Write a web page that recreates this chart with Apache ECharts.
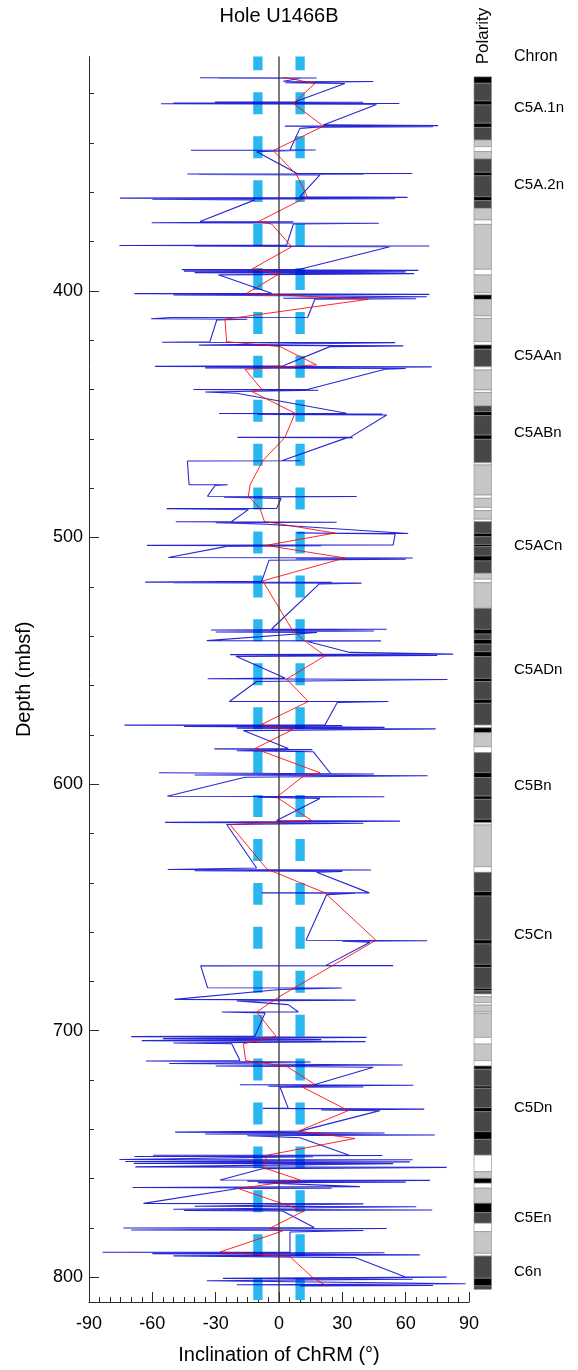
<!DOCTYPE html>
<html>
<head>
<meta charset="utf-8">
<script src="https://cdn.jsdelivr.net/npm/echarts@6/dist/echarts.min.js"></script>
<style>html,body{margin:0;padding:0;background:#fff}#c{width:578px;height:1370px}</style>
</head>
<body>
<div id="c"></div>
<script>
// ---------------- data ----------------
// Blue: individual inclination readings, [inclination (deg), depth (mbsf)], in sequence
const blueReadings = [
 [-37.4,313.6],[17.8,313.7],[-28.7,313.8],[10,313.9],[2,315.0],[44.7,315.1],[3,315.6],[31.2,315.9],
 [7.6,323.3],[-30.3,323.4],[39.9,323.5],[-50,323.8],[57,324.0],[-55.9,324.1],[46.2,324.4],
 [21,332.7],[75.4,333.0],[2.8,333.2],[73,333.4],[17.8,333.6],[9.9,334.1],
 [5.2,342.9],[17.4,342.9],[-41.7,343.0],[8,343.1],[-10.6,343.6],
 [8.4,352.3],[63.1,352.4],[-43.4,352.6],[40,352.7],[-38,352.8],[19.4,353.0],
 [9.9,361.8],[60.9,362.1],[-75.3,362.4],[55,362.6],[-60,362.8],[-11.4,363.1],
 [-37.4,371.9],[6.8,372.0],[-60.3,372.4],[47.3,372.6],[6.8,372.9],
 [3.6,381.4],[-75.6,381.6],[71.2,381.8],[-40,381.9],[52.5,382.1],
 [9.9,391.2],[-46,391.4],[66,391.7],[-45,392.0],[60,392.3],[-40,392.6],[64,393.0],[-28.7,393.5],
 [-3.5,401.0],[-68.5,401.1],[71.2,401.4],[-50,401.6],[70,402.4],[2,403.0],[65,403.2],[17,403.4],
 [13.6,410.7],[-51,410.8],[-60.6,411.3],[-15,411.5],[-29.5,411.8],
 [-32.7,420.6],[-55.5,420.8],[55,421.0],[-38,422.0],[58.9,422.3],[24.1,422.6],
 [2,430.4],[-58.7,430.6],[72.3,430.8],[-35,431.2],[60,431.5],[50.2,431.8],
 [13.9,439.9],[-40.6,440.0],[18.6,440.3],[-35,441.0],[-20,441.5],
 [32,449.6],[-28.4,449.7],[49,449.9],[-10,450.1],[51,450.3],
 [33.6,459.4],[-19.7,459.4],[34.9,459.5],[32,459.6],
 [1.3,468.9],[10.3,468.9],[-43.4,469.0],[-42.6,478.6],
 [-24.3,478.6],[-30.3,478.9],[-33.9,483.3],
 [36.8,483.4],[-26,483.7],[1,484.2],
 [-1.1,488.2],[-53.2,488.3],[-14.5,488.7],
 [-22.4,493.5],[-48.9,493.6],[27.3,493.8],[-30,494.0],[-5.8,494.6],
 [61.2,498.4],[8.4,498.2],[55,498.6],
 [54.1,503.0],[-62.6,503.2],[20,503.3],[-24.8,503.6],
 [-52.4,508.1],[63.3,508.3],[8,508.6],[60,508.8],[-4.7,509.2],
 [-8.2,517.8],[-63.4,518.1],[25,518.2],[-50,518.3],[39.1,518.5],[19.1,518.8],
 [-3.5,537.1],[51,537.2],[-32.2,537.5],[45,537.9],[-30,538.3],[18,538.5],
 [-34.2,541.8],[48.3,541.9],[13.1,542.1],
 [33.6,546.6],[82.5,547.3],[-23.2,547.5],[75,547.8],[-20.4,548.2],
 [2.8,557.0],[-33.8,557.3],[79.8,557.6],[-10.6,558.4],
 [-23.5,566.5],[51.8,566.5],[27.6,566.9],
 [21.8,575.9],[-73.2,576.1],[30,576.3],[-45,576.6],[50,577.0],[-20,577.3],[74.2,577.6],[-16.9,578.3],
 [4.4,585.6],[-30.6,585.7],[15.8,586.0],[-20,586.5],[16.3,586.9],
 [24.5,595.8],[-56.8,595.4],[45,595.9],[-40,596.3],[70.4,596.6],[-16.1,597.2],
 [-52.9,604.9],[49.9,605.1],[-10,605.3],[19.4,605.8],
 [-1.1,614.8],[57.3,615.0],[-54,615.5],[40,615.9],[-24.8,616.4],
 [-10.6,634.0],[-52.7,634.6],[43.6,634.8],[-40,635.1],[30,635.4],[17.8,635.7],
 [42.8,644.1],[-8.2,644.1],[36,644.2],[22.6,644.8],
 [12.8,663.3],[70.2,663.5],[30,663.7],[43.1,664.1],
 [22,673.6],[54.1,673.6],[-37.1,673.7],[-33.8,682.6],
 [29.7,682.7],[0.5,683.3],
 [-49.5,687.3],[36.3,687.6],[-20,687.9],[4.4,689.4],
 [9.2,692.4],[-27.1,692.4],[-6.6,692.8],
 [-11.4,702.2],[-70,702.4],[41.5,702.7],[-55,703.2],[20,703.6],[-65,704.0],[41,704.4],[-50,705.0],[-22.4,705.3],
 [-18.5,712.1],[-63,712.3],[15,712.7],[-52,713.3],[58.5,713.9],[-30,714.3],[44.7,714.8],
 [17,721.8],[-18.5,721.9],[63.6,722.1],[-5,722.5],[40,722.8],[0.5,722.9],
 [4.4,731.5],[-7.7,731.5],[68.8,731.8],[20,732.1],[47.8,732.4],
 [9.9,740.7],[-49.2,741.1],[50,741.5],[-35,741.9],[73.8,742.3],[-15,742.6],[9.9,743.4],
 [33.3,750.5],[-59.6,750.5],[49,750.6],[-68.5,751.0],[16.1,751.1],[-75.6,752.2],[63.3,752.3],[-72.8,753.0],[62,753.2],[-68.8,753.8],[54.1,753.9],[-68.1,755.2],[79.4,755.4],[-7.4,755.9],
 [-27.9,760.5],[71.5,760.7],[-15,761.0],[60,761.4],[-10,761.6],
 [38.3,763.2],[-69.3,763.6],[25,763.9],[-19.3,764.0],
 [-64.2,770.0],[40,770.2],[-40,771.2],[65,771.4],[-50,772.4],[72.6,772.7],[-45,772.9],[1.7,773.1],
 [16.7,779.8],[-73.7,780.0],[51,780.2],[-70,780.8],[40,781.0],[5.2,781.6],
 [5.2,789.7],[-83.6,789.8],[50,790.0],[-60,790.4],[66.7,790.9],[-50,791.3],[36,792.0],
 [59.6,799.8],[79.4,799.9],[-26.6,800.4],[63.3,800.8],[-34.2,801.4],[88.4,802.6],[-20,803.0],[73,803.3],[10,803.5]
];
// Red: averaged inclination per interval
const redInc = [2.1,17.0,6.8,21.0,-2.7,8.4,13.4,-9.8,-3.5,6.0,-12.9,0.5,-15.3,42.3,-25.6,-24.8,0.5,17.8,-16.1,-8.2,-12.9,7.6,
 2.8,-7.7,-13.7,-14.5,-9.0,-6.9,26.5,-6.2,31.2,-7.7,6.0,11.5,21.8,3.6,13.9,-8.5,6.5,-11.4,19.4,11.5,-1.1,15.5,-23.2,
 -5.8,21.8,45.9,0.5,-10.6,-1.4,-16.9,-15.8,3.6,17.0,11.2,32.8,9.2,36.0,-5.8,-7.4,9.9,-19.3,11.8,-4.3,1.7,-27.9,5.2,15.5,22.6];
const redDepth = [313.4,315.9,324.0,333.2,343.1,353.0,361.8,371.9,372.9,382.1,391.2,392.9,401.0,403.4,411.5,420.6,422.6,430.0,431.8,439.9,440.8,449.6,
 459.4,468.9,478.6,483.3,488.3,493.5,498.2,503.2,508.3,517.6,537.1,541.5,548.0,557.4,566.5,575.9,577.9,585.6,595.4,596.8,605.3,614.8,616.4,
 634.4,644.1,663.3,686.0,692.4,702.2,705.3,712.1,714.4,721.8,722.9,732.4,740.7,743.7,750.5,755.5,760.5,764.0,773.1,780.1,781.2,789.7,791.6,799.8,803.5];
// Reference inclinations (dashed)
const refInc = [-10, 10];
// Polarity column: interval boundaries (mbsf) and type (K black, D dark, L light, W white)
const polBounds = [313.2,315.8,323.0,324.6,332.0,333.7,338.8,341.5,343.5,346.5,351.9,353.3,361.8,363.4,366.5,371.2,373.0,391.2,393.5,400.7,
 401.6,403.4,410.1,411.1,420.5,421.9,423.6,430.7,432.0,440.1,441.1,446.6,448.9,450.5,458.4,460.1,469.6,470.5,482.7,484.0,
 487.7,489.0,492.5,493.5,498.2,499.6,502.7,503.6,507.4,509.4,514.4,516.8,518.2,528.6,537.1,539.0,541.2,543.1,546.2,548.2,
 557.0,558.3,565.5,567.1,575.9,577.0,579.0,584.7,587.1,595.2,597.2,604.7,606.0,614.1,615.5,616.4,633.3,635.6,643.4,645.2,
 663.0,664.6,672.9,674.1,682.6,683.6,684.9,686.0,688.4,689.4,692.1,692.7,702.5,705.2,711.9,714.1,715.4,722.2,723.1,731.0,
 732.6,740.7,743.8,750.2,756.9,759.6,761.6,763.6,769.7,773.5,777.8,781.2,790.0,791.1,800.1,803.2,804.6];
const polType = ['K','D','K','D','K','D','L','W','L','D', 'K','D','K','D','L','W','L','W','L','W',
 'K','L','W','L','W','K','D','W','L','W', 'L','D','K','D','K','D','W','L','W','L',
 'W','L','W','D','K','D','K','D','K','D', 'L','W','L','D','K','D','K','D','K','D',
 'K','D','K','D','W','K','L','W','D','K', 'D','K','D','K','W','L','W','D','K','D',
 'K','D','K','D','K','D','W','L','W','L', 'W','L','W','L','W','K','D','K','D','K',
 'D','K','D','W','L','K','W','L','K','D', 'W','L','W','D','K','D'];
const chronNames = ['C5A.1n','C5A.2n','C5AAn','C5ABn','C5ACn','C5ADn','C5Bn','C5Cn','C5Dn','C5En','C6n'];
const chronDepth = [325.8,357.0,426.3,457.5,503.3,553.6,600.6,661.0,731.1,775.7,797.6];
const depthLabels = [400,500,600,700,800];
const depthMinor = [320,340,360,380,400,420,440,460,480,500,520,540,560,580,600,620,640,660,680,700,720,740,760,780,800];
const depthMin = 305, depthMax = 810;

// ---------------- chart ----------------
const FONT = "'Liberation Sans', Arial, Helvetica, sans-serif";
const polColor = {K:'#000000', D:'#474747', L:'#c6c6c6', W:'#ffffff'};
const GT = 56.6, GH = 1246.1;
const polData = [];
for (let i = 0; i < polType.length && i + 1 < polBounds.length; i++) {
  polData.push([polBounds[i], polBounds[i + 1], i]);
}
const chart = echarts.init(document.getElementById('c'), null, {renderer: 'canvas'});
const axisCol = '#2a2a2a';
const dashSeries = refInc.map(v => ({
  type: 'line', xAxisIndex: 0, yAxisIndex: 0, silent: true, symbol: 'none', z: 2,
  data: [[v, depthMin], [v, depthMax]],
  lineStyle: {color: '#2ab7ef', width: 9.3, type: [21.96, 21.96], dashOffset: 8.2, cap: 'butt'}
}));
chart.setOption({
  animation: false,
  grid: [
    {left: 89, top: GT, width: 380, height: GH},
    {left: 474, top: GT, width: 17.5, height: GH}
  ],
  xAxis: [
    {gridIndex: 0, type: 'value', position: 'bottom', min: -90, max: 90, interval: 30,
     axisLine: {show: true, onZero: false, lineStyle: {color: axisCol, width: 1}},
     axisTick: {show: true, inside: true, length: 10, lineStyle: {color: axisCol, width: 1}},
     minorTick: {show: true, splitNumber: 6, length: 5, lineStyle: {color: axisCol, width: 1}},
     splitLine: {show: false}, minorSplitLine: {show: false},
     axisLabel: {color: '#000', fontSize: 18, fontFamily: FONT, margin: 13},
     name: 'Inclination of ChRM (°)', nameLocation: 'middle', nameGap: 43,
     nameTextStyle: {color: '#000', fontSize: 20, fontFamily: FONT}},
    {gridIndex: 1, type: 'value', min: 0, max: 1, show: false}
  ],
  yAxis: [
    {gridIndex: 0, type: 'value', position: 'left', inverse: true, min: depthMin, max: depthMax,
     axisLine: {show: true, onZero: false, lineStyle: {color: axisCol, width: 1}},
     axisTick: {show: true, inside: true, length: 10, customValues: depthLabels, lineStyle: {color: axisCol, width: 1}},
     axisLabel: {show: true, customValues: depthLabels, color: '#000', fontSize: 18, fontFamily: FONT, margin: 6},
     splitLine: {show: false},
     name: 'Depth (mbsf)', nameLocation: 'middle', nameGap: 55, nameRotate: 90,
     nameTextStyle: {color: '#000', fontSize: 20, fontFamily: FONT}},
    {gridIndex: 0, type: 'value', position: 'left', offset: 0, inverse: true, min: depthMin, max: depthMax,
     axisLine: {show: false, onZero: false},
     axisTick: {show: true, inside: true, length: 5, customValues: depthMinor, lineStyle: {color: axisCol, width: 1}},
     axisLabel: {show: false}, splitLine: {show: false}},
    {gridIndex: 1, type: 'value', inverse: true, min: depthMin, max: depthMax, show: false}
  ],
  graphic: [
    {type: 'text', x: 279, y: 16, style: {text: 'Hole U1466B', fill: '#000', font: '20px ' + FONT, align: 'center', verticalAlign: 'middle'}},
    {type: 'text', x: 483, y: 36, rotation: Math.PI / 2, style: {text: 'Polarity', fill: '#000', font: '17px ' + FONT, align: 'center', verticalAlign: 'middle'}},
    {type: 'text', x: 514, y: 57, style: {text: 'Chron', fill: '#000', font: '16px ' + FONT, align: 'left', verticalAlign: 'middle'}}
  ],
  series: [
    ...dashSeries,
    {type: 'line', xAxisIndex: 0, yAxisIndex: 0, silent: true, symbol: 'none', z: 3,
     data: blueReadings, lineStyle: {color: '#0000cc', width: 1.1, opacity: 0.85}},
    {type: 'line', xAxisIndex: 0, yAxisIndex: 0, silent: true, symbol: 'none', z: 4,
     data: redInc.map((v, i) => [v, redDepth[i]]), lineStyle: {color: '#ff0000', width: 1, opacity: 0.85}},
    {type: 'line', xAxisIndex: 0, yAxisIndex: 0, silent: true, symbol: 'none', z: 5,
     data: [[0, depthMin], [0, depthMax]], lineStyle: {color: '#333', width: 1.3}},
    {type: 'custom', xAxisIndex: 1, yAxisIndex: 2, silent: true, z: 2,
     data: polData,
     renderItem: function (params, api) {
       const p0 = api.coord([0, api.value(0)]);
       const p1 = api.coord([1, api.value(1)]);
       const t = polType[api.value(2)];
       return {type: 'rect', shape: {x: p0[0], y: p0[1], width: p1[0] - p0[0], height: p1[1] - p0[1]},
               style: {fill: polColor[t], stroke: '#8a8a8a', lineWidth: 0.6}};
     }},
    {type: 'custom', xAxisIndex: 1, yAxisIndex: 2, silent: true, z: 3,
     data: chronDepth.map((d, i) => [1, d, i]),
     renderItem: function (params, api) {
       const p = api.coord([1, api.value(1)]);
       return {type: 'text', x: p[0] + 22.5, y: p[1],
               style: {text: chronNames[api.value(2)], fill: '#000', font: '15px ' + FONT, align: 'left', verticalAlign: 'middle'}};
     }}
  ]
});
</script>
</body>
</html>
